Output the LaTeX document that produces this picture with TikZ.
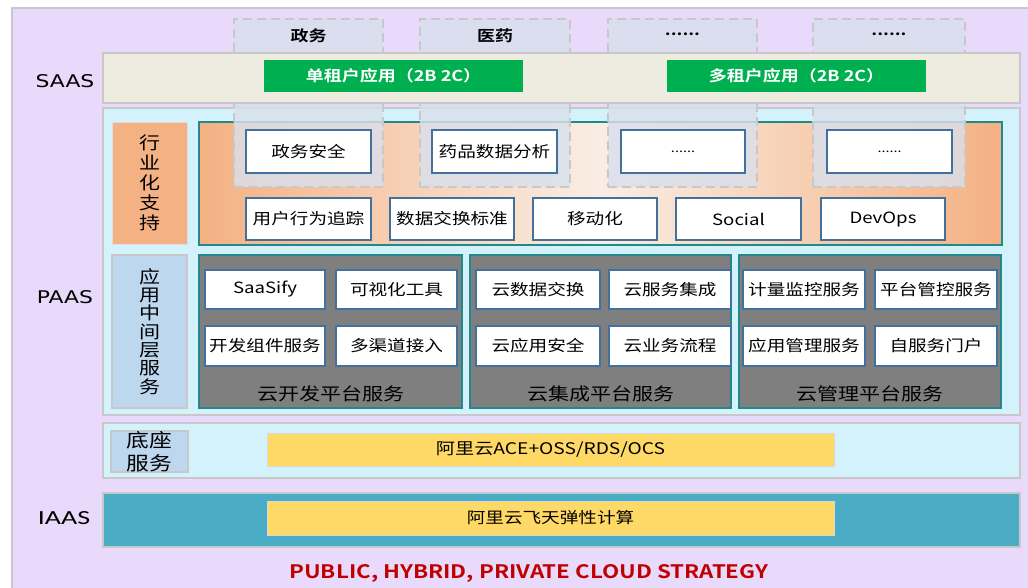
\documentclass[tikz,border=0pt]{standalone}
\usepackage{fontspec}
\setmainfont{Noto Sans CJK SC}[FakeStretch=1.2,BoldFont={Noto Sans CJK SC Bold}]
\newfontfamily\latinf{DejaVu Sans}[FakeStretch=1.25]
\newfontfamily\calf{Carlito}[FakeStretch=1.4]
\definecolor{lav}{HTML}{E9D9FA}
\definecolor{beige}{HTML}{EEECE1}
\definecolor{cyanp}{HTML}{D4F2FC}
\definecolor{orangel}{HTML}{F4B183}
\definecolor{orangem}{HTML}{FAEDE4}
\definecolor{tealb}{HTML}{22898A}
\definecolor{blueb}{HTML}{41719C}
\definecolor{grayp}{HTML}{7F7F7F}
\definecolor{bluel}{HTML}{BDD7EE}
\definecolor{dashf}{HTML}{D9E0EC}
\definecolor{greenb}{HTML}{00B050}
\definecolor{iaas}{HTML}{4BACC6}
\definecolor{yel}{HTML}{FFD966}
\definecolor{redt}{HTML}{C00000}
\definecolor{lgray}{HTML}{C8C8C8}
% \bx{style}{name}{x1}{y1}{x2}{y2}{text}
\newcommand\bx[7]{\node[#1, minimum width={(#5-#3)*1pt}, minimum height={(#6-#4)*1pt}] (#2) at ({(#3+#5)/2},{(#4+#6)/2}) {#7};}
\tikzset{
  base/.style={inner sep=0pt, outer sep=0pt},
  outerbg/.style={base, draw=lgray, line width=1.5pt, fill=lav},
  saasband/.style={base, draw=lgray, line width=1.2pt, fill=beige},
  cyanpanel/.style={base, draw=lgray, line width=1.2pt, fill=cyanp},
  colbox/.style={base, draw=lgray, line width=1.8pt, dash pattern=on 9pt off 5pt, fill=dashf, fill opacity=0.82},
  greenbox/.style={base, fill=greenb, text=white, font=\bfseries\fontsize{15}{17}\selectfont},
  orlabel/.style={base, fill=orangel, draw=lgray!60, line width=1pt, align=center, font=\fontsize{17.5}{20}\selectfont},
  orpanel/.style={base, draw=tealb, line width=2pt, left color=orangel, right color=orangel, middle color=orangem},
  wbox/.style={base, fill=white, draw=blueb, line width=2.2pt, font=\fontsize{15.5}{18}\selectfont},
  bllabel/.style={base, fill=bluel, draw=lgray, line width=1.5pt, align=center, font=\fontsize{17.5}{18.3}\selectfont},
  graypanel/.style={base, fill=grayp, draw=tealb, line width=2pt},
  panellab/.style={font=\fontsize{17.5}{20}\selectfont},
  toplab/.style={font=\bfseries\fontsize{15}{18}\selectfont},
  sidelab/.style={font=\latinf\fontsize{17.5}{20}\selectfont},
  yelbox/.style={base, fill=yel, draw=lgray!70, line width=1pt, font=\fontsize{15.5}{18}\selectfont},
  iaasband/.style={base, fill=iaas, draw=lgray, line width=1.2pt},
  dots/.style={font=\fontsize{12}{14}\selectfont}
}
\begin{document}
\begin{tikzpicture}[x=1pt,y=-1pt]
\useasboundingbox (0,0) rectangle (1028,587);
\fill[white] (0,0) rectangle (1028,587);
\bx{outerbg}{bg}{12}{8}{1040}{600}{}

% PAAS panel
\bx{cyanpanel}{paas}{103}{108}{1020}{415}{}
\bx{orlabel}{hyzc}{112}{122}{187}{244}{行\\业\\化\\支\\持}
\bx{orpanel}{orp}{199}{122}{1002}{245}{}

% column boxes
\bx{colbox}{c1}{234}{19}{383}{187}{}
\bx{colbox}{c2}{420}{19}{570}{187}{}
\bx{colbox}{c3}{608}{19}{757}{187}{}
\bx{colbox}{c4}{813}{19}{965}{187}{}
\node[toplab] (t1) at (308.5,36) {政务};
\node[toplab] (t2) at (495,36) {医药};
\node[toplab] (t3) at (682.5,34) {......};
\node[toplab] (t4) at (889,34) {......};

% SAAS band
\bx{saasband}{saas}{103}{53}{1020}{103}{}
\node[sidelab] (saaslab) at (65,81) {SAAS};
\bx{greenbox}{g1}{264}{60}{523}{92}{单租户应用（2B 2C）}
\bx{greenbox}{g2}{667}{60}{926}{92}{多租户应用（2B 2C）}

% industry row 1
\bx{wbox}{w1}{246}{130}{371}{173}{政务安全}
\bx{wbox}{w2}{432}{130}{557}{173}{药品数据分析}
\bx{wbox, dots}{w3}{621}{130}{745}{173}{......}
\bx{wbox, dots}{w4}{827}{130}{952}{173}{......}
% industry row 2
\bx{wbox}{r1}{246}{198}{371}{240}{用户行为追踪}
\bx{wbox}{r2}{390}{198}{514}{240}{数据交换标准}
\bx{wbox}{r3}{533}{198}{657}{240}{移动化}
\bx{wbox}{r4}{676}{198}{801}{240}{Social}
\bx{wbox}{r5}{821}{198}{945}{240}{DevOps}

\node[sidelab] (paaslab) at (65,297) {PAAS};

% middleware
\bx{bllabel}{yyzj}{112}{255}{187}{408}{应\\用\\中\\间\\层\\服\\务}
\bx{graypanel}{p1}{199}{255}{462}{408}{}
\bx{graypanel}{p2}{470}{255}{731}{408}{}
\bx{graypanel}{p3}{739}{255}{1001}{408}{}

\bx{wbox}{a1}{205}{270}{325}{309}{SaaSify}
\bx{wbox}{a2}{336}{270}{457}{309}{可视化工具}
\bx{wbox}{a3}{205}{326}{325}{366}{开发组件服务}
\bx{wbox}{a4}{336}{326}{457}{366}{多渠道接入}

\bx{wbox}{b1}{476}{270}{600}{309}{云数据交换}
\bx{wbox}{b2}{609}{270}{731}{309}{云服务集成}
\bx{wbox}{b3}{476}{326}{600}{366}{云应用安全}
\bx{wbox}{b4}{609}{326}{731}{366}{云业务流程}

\bx{wbox}{m1}{743}{270}{865}{309}{计量监控服务}
\bx{wbox}{m2}{875}{270}{997}{309}{平台管控服务}
\bx{wbox}{m3}{743}{326}{865}{366}{应用管理服务}
\bx{wbox}{m4}{875}{326}{997}{366}{自服务门户}

\node[panellab] (pl1) at (330.5,394) {云开发平台服务};
\node[panellab] (pl2) at (600.5,394) {云集成平台服务};
\node[panellab] (pl3) at (870,394) {云管理平台服务};

% base services
\bx{cyanpanel}{dz}{103}{423}{1020}{478}{}
\bx{bllabel, font=\fontsize{19}{23}\selectfont}{dzlab}{111}{431}{188}{472}{底座\\服务}
\bx{yelbox, font=\fontsize{16}{18}\selectfont}{y1}{267}{433}{834}{466}{阿里云ACE+OSS/RDS/OCS}

% IAAS
\bx{iaasband}{ia}{103}{493}{1020}{547}{}
\bx{yelbox}{y2}{267}{501}{834}{535}{阿里云飞天弹性计算}
\node[font=\calf\fontsize{20}{22}\selectfont] (iaaslab) at (64,518) {IAAS};

\node[text=redt, font=\bfseries\fontsize{18.6}{22}\selectfont] (strat) at (529,573) {PUBLIC, HYBRID, PRIVATE CLOUD STRATEGY};
\end{tikzpicture}
\end{document}
